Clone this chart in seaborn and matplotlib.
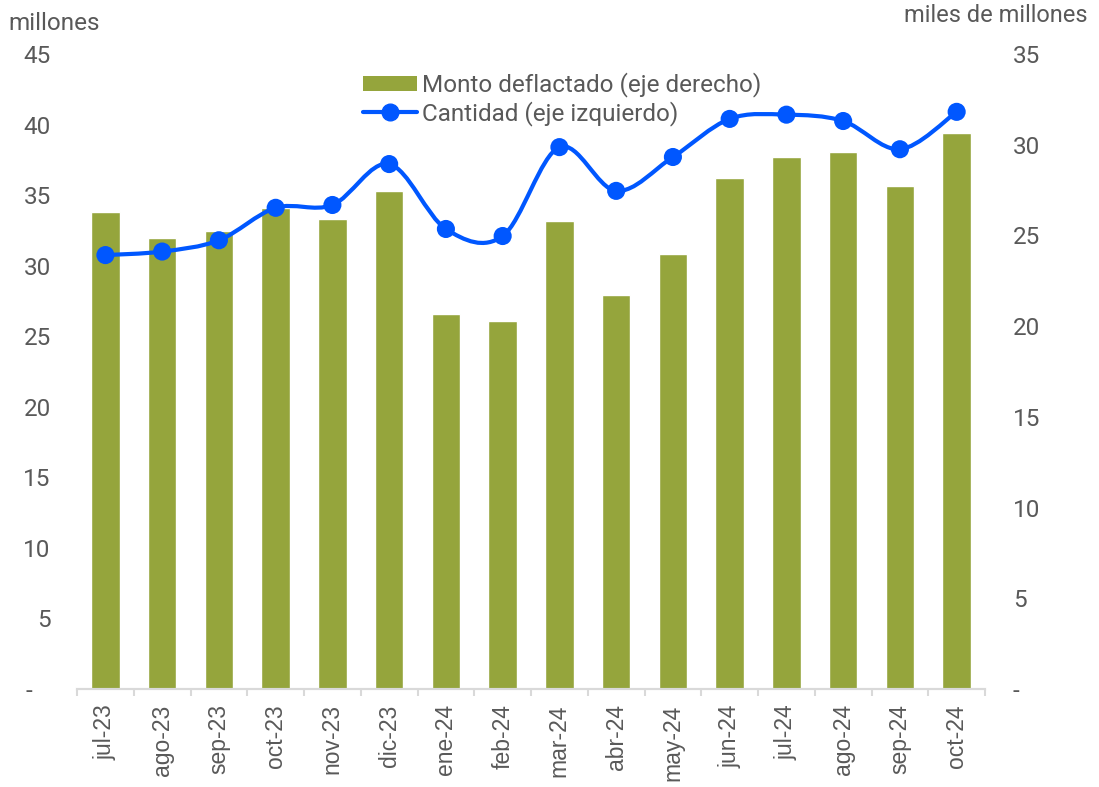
import matplotlib
matplotlib.use("Agg")
import matplotlib.pyplot as plt
import numpy as np
import seaborn as sns
from matplotlib.lines import Line2D
from matplotlib.patches import Patch, PathPatch
from matplotlib.path import Path

meses = ["jul-23", "ago-23", "sep-23", "oct-23", "nov-23", "dic-23", "ene-24", "feb-24",
         "mar-24", "abr-24", "may-24", "jun-24", "jul-24", "ago-24", "sep-24", "oct-24"]
# monto deflactado, miles de millones (eje derecho)
monto = [26.3, 24.85, 25.25, 26.5, 25.9, 27.45, 20.65, 20.3,
         25.8, 21.7, 24.0, 28.15, 29.3, 29.6, 27.75, 30.65]
# cantidad, millones (eje izquierdo)
cantidad = [30.75, 31.0, 31.8, 34.1, 34.3, 37.2, 32.6, 32.1,
            38.4, 35.3, 37.7, 40.4, 40.7, 40.25, 38.25, 40.9]

izq_ticks = [0, 5, 10, 15, 20, 25, 30, 35, 40, 45]
der_ticks = [0, 5, 10, 15, 20, 25, 30, 35]

VERDE = "#95A53C"
AZUL = "#0057FF"
GRIS = "#595959"
FS = 17.5

sns.set_style("white")
plt.rcParams["font.family"] = ["Roboto", "DejaVu Sans"]

fig = plt.figure(figsize=(10.99, 7.87), dpi=100)
ax = fig.add_axes([0.0701, 0.1245, 0.8262, 0.8069])
ax_der = ax.twinx()

# barras en eje derecho
sns.barplot(x=meses, y=monto, ax=ax_der, color=VERDE, width=0.5, saturation=1)
ax_der.set_ylim(0, 35)
ax_der.set_yticks(der_ticks)
ax_der.set_yticklabels(["-"] + [str(t) for t in der_ticks[1:]])

# linea suavizada en eje izquierdo (bezier tipo catmull-rom)
xs = np.arange(len(cantidad), dtype=float)
ys = np.array(cantidad, dtype=float)
pts = np.column_stack([xs, ys])
ext = np.vstack([pts[0], pts, pts[-1]])
verts = [pts[0]]
codes = [Path.MOVETO]
for i in range(len(pts) - 1):
    c1 = ext[i + 1] + (ext[i + 2] - ext[i]) / 6
    c2 = ext[i + 2] - (ext[i + 3] - ext[i + 1]) / 6
    verts += [c1, c2, pts[i + 1]]
    codes += [Path.CURVE4] * 3
ax.add_patch(PathPatch(Path(verts, codes), fill=False, edgecolor=AZUL, lw=3, zorder=3))
sns.scatterplot(x=xs, y=ys, ax=ax, color=AZUL, s=170, edgecolor="none", zorder=4)

ax.set_zorder(ax_der.get_zorder() + 1)
ax.patch.set_visible(False)
ax.set_ylim(0, 45)
ax.set_xlim(-0.5, len(meses) - 0.5)
ax.set_yticks(izq_ticks)
ax.set_yticklabels(["-   "] + [str(t) for t in izq_ticks[1:]])

for a in (ax, ax_der):
    for s in ("top", "left", "right"):
        a.spines[s].set_visible(False)
    a.spines["bottom"].set_color("#D9D9D9")
    a.spines["bottom"].set_linewidth(1.5)
    a.set_xlabel("")
    a.set_ylabel("")

ax.tick_params(axis="y", length=0, pad=19, labelsize=FS, labelcolor=GRIS)
ax_der.tick_params(axis="y", length=0, pad=20, labelsize=FS, labelcolor=GRIS)

# etiquetas de categoria y marcas entre categorias
ax.set_xticks(np.arange(len(meses)))
ax.set_xticklabels(meses, rotation=90, fontsize=16.5, color=GRIS, family="Liberation Sans")
ax.set_xticks(np.arange(len(meses) + 1) - 0.5, minor=True)
ax.tick_params(axis="x", which="major", bottom=True, length=0, pad=11)
ax.tick_params(axis="x", which="minor", bottom=True, length=5, width=1.5, color="#D9D9D9")

fig.text(8 / 1099, 1 - 12 / 787, "millones", fontsize=FS, color=GRIS, va="top", ha="left")
fig.text(1088 / 1099, 1 - 4 / 787, "miles de millones", fontsize=17, color=GRIS, va="top", ha="right")

handles = [
    Patch(facecolor=VERDE, edgecolor="none", label="Monto deflactado (eje derecho)"),
    Line2D([], [], color=AZUL, lw=3, marker="o", markersize=12, label="Cantidad (eje izquierdo)"),
]
leg = ax.legend(handles=handles, loc="upper left", bbox_to_anchor=(0.315, 0.971), frameon=False,
                fontsize=FS, handlelength=2.2, handleheight=0.55, handletextpad=0.22,
                labelspacing=0.15, borderpad=0, borderaxespad=0)
for t in leg.get_texts():
    t.set_color(GRIS)

fig.savefig("out.png", dpi=100)
